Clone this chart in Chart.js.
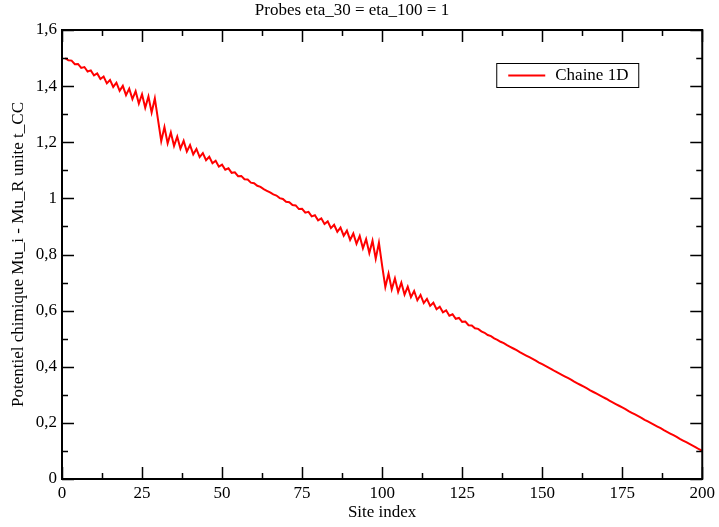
<!DOCTYPE html>
<html>
<head>
<meta charset="utf-8">
<script src="https://cdn.jsdelivr.net/npm/chart.js@4.4.1/dist/chart.umd.min.js"></script>
<style>
  html, body { margin: 0; padding: 0; background: #fff; }
  #wrap { width: 719px; height: 527px; }
</style>
</head>
<body>
<div id="wrap"><canvas id="myChart" width="719" height="527"></canvas></div>
<script>
const titre = "Probes eta_30 = eta_100 = 1";
const serieLabel = "Chaine 1D";
const xTitre = "Site index";
const yTitre = "Potentiel chimique Mu_i - Mu_R unite t_CC";

// site index 1..200
const sites = Array.from({ length: 200 }, (_, i) => i + 1);

// valeurs, site 1 -> 200
const potentiel = [
  1.500, 1.492, 1.491, 1.478, 1.479, 1.465, 1.468, 1.452, 1.456, 1.438,
  1.445, 1.425, 1.434, 1.410, 1.422, 1.397, 1.412, 1.383, 1.401, 1.368,
  1.391, 1.354, 1.382, 1.338, 1.371, 1.323, 1.363, 1.306, 1.356, 1.280,
  1.204, 1.254, 1.196, 1.235, 1.187, 1.220, 1.177, 1.205, 1.167, 1.190,
  1.157, 1.176, 1.147, 1.161, 1.136, 1.148, 1.125, 1.134, 1.113, 1.120,
  1.102, 1.107, 1.091, 1.093, 1.079, 1.080, 1.068, 1.067, 1.056, 1.054,
  1.045, 1.041, 1.033, 1.027, 1.021, 1.014, 1.010, 1.001, 0.998, 0.988,
  0.986, 0.976, 0.975, 0.962, 0.963, 0.949, 0.952, 0.936, 0.940, 0.922,
  0.929, 0.909, 0.918, 0.894, 0.906, 0.881, 0.896, 0.867, 0.885, 0.852,
  0.875, 0.838, 0.866, 0.822, 0.855, 0.805, 0.849, 0.785, 0.842, 0.760,
  0.684, 0.732, 0.676, 0.715, 0.667, 0.700, 0.657, 0.685, 0.648, 0.670,
  0.637, 0.656, 0.627, 0.642, 0.617, 0.628, 0.605, 0.614, 0.594, 0.601,
  0.582, 0.587, 0.571, 0.574, 0.560, 0.561, 0.548, 0.547, 0.537, 0.535,
  0.526, 0.521, 0.513, 0.509, 0.501, 0.496, 0.489, 0.484, 0.477, 0.471,
  0.465, 0.459, 0.452, 0.446, 0.440, 0.434, 0.428, 0.422, 0.415, 0.409,
  0.403, 0.397, 0.391, 0.384, 0.378, 0.372, 0.366, 0.360, 0.354, 0.347,
  0.341, 0.335, 0.329, 0.323, 0.316, 0.310, 0.304, 0.298, 0.292, 0.286,
  0.279, 0.273, 0.267, 0.261, 0.255, 0.249, 0.242, 0.236, 0.230, 0.224,
  0.218, 0.211, 0.205, 0.199, 0.193, 0.187, 0.181, 0.174, 0.168, 0.162,
  0.156, 0.150, 0.143, 0.137, 0.131, 0.125, 0.119, 0.113, 0.106, 0.100
];

const xMajor = [0, 25, 50, 75, 100, 125, 150, 175, 200];
const xMinor = [12.5, 37.5, 62.5, 87.5, 112.5, 137.5, 162.5, 187.5];
const yMajor = [0, 0.2, 0.4, 0.6, 0.8, 1, 1.2, 1.4, 1.6];
const yMinor = [0.1, 0.3, 0.5, 0.7, 0.9, 1.1, 1.3, 1.5];

const police = "'Liberation Serif', 'DejaVu Serif', serif";

// ticks vers l'interieur + cadre (style xmgrace)
const cadrePlugin = {
  id: "cadre",
  afterDatasetsDraw(chart) {
    const { ctx, chartArea: a, scales } = chart;
    ctx.save();
    ctx.strokeStyle = "#000";
    ctx.lineWidth = 1.5;
    const tick = (vals, len) => {
      vals.forEach(v => {
        const px = Math.round(scales.x.getPixelForValue(v)) + 0.5;
        ctx.beginPath();
        ctx.moveTo(px, a.bottom); ctx.lineTo(px, a.bottom - len);
        ctx.moveTo(px, a.top); ctx.lineTo(px, a.top + len);
        ctx.stroke();
      });
    };
    const tickY = (vals, len) => {
      vals.forEach(v => {
        const py = Math.round(scales.y.getPixelForValue(v)) + 0.5;
        ctx.beginPath();
        ctx.moveTo(a.left, py); ctx.lineTo(a.left + len, py);
        ctx.moveTo(a.right, py); ctx.lineTo(a.right - len, py);
        ctx.stroke();
      });
    };
    tick(xMajor, 12); tick(xMinor, 6);
    tickY(yMajor, 12); tickY(yMinor, 6);
    ctx.lineWidth = 2;
    ctx.strokeRect(a.left, a.top, a.right - a.left, a.bottom - a.top);

    // legende dans le cadre
    const bx = a.right - 206, by = a.top + 33, bw = 142, bh = 24;
    ctx.fillStyle = "#fff";
    ctx.fillRect(bx, by, bw, bh);
    ctx.lineWidth = 1;
    ctx.strokeRect(bx + 0.5, by + 0.5, bw, bh);
    ctx.strokeStyle = "red";
    ctx.lineWidth = 2;
    ctx.beginPath();
    ctx.moveTo(bx + 12, by + 12.5); ctx.lineTo(bx + 49, by + 12.5);
    ctx.stroke();
    ctx.fillStyle = "#000";
    ctx.font = "17px " + police;
    ctx.textBaseline = "middle";
    ctx.fillText(chart.data.datasets[0].label, bx + 59, by + 13);
    ctx.restore();
  }
};

const ctx = document.getElementById("myChart");

new Chart(ctx, {
  type: "line",
  data: {
    datasets: [{
      label: serieLabel,
      data: sites.map((s, i) => ({ x: s, y: potentiel[i] })),
      borderColor: "red",
      borderWidth: 2,
      pointRadius: 0,
      tension: 0,
      fill: false
    }]
  },
  options: {
    responsive: false,
    animation: false,
    layout: { padding: { top: 0, right: 15, left: 0, bottom: 0 } },
    plugins: {
      legend: { display: false },
      tooltip: { enabled: false },
      title: {
        display: true,
        text: titre,
        color: "#000",
        font: { family: police, size: 17, weight: "normal" },
        padding: { top: 0, bottom: 9.6 }
      }
    },
    scales: {
      x: {
        type: "linear",
        min: 0,
        max: 200,
        afterFit: s => { s.height = 48; },
        afterBuildTicks: s => { s.ticks = xMajor.map(v => ({ value: v })); },
        grid: { display: false, drawTicks: false },
        border: { display: false },
        ticks: {
          color: "#000",
          padding: 4,
          maxRotation: 0,
          font: { family: police, size: 17 }
        },
        title: {
          display: true,
          text: xTitre,
          color: "#000",
          padding: { top: 0, bottom: 4 },
          font: { family: police, size: 17 }
        }
      },
      y: {
        min: 0,
        max: 1.6,
        afterFit: s => { s.width = 62; },
        afterBuildTicks: s => { s.ticks = yMajor.map(v => ({ value: v })); },
        grid: { display: false, drawTicks: false },
        border: { display: false },
        ticks: {
          color: "#000",
          padding: 5,
          font: { family: police, size: 17 },
          callback: v => String(Math.round(v * 10) / 10).replace(".", ",")
        },
        title: {
          display: true,
          text: yTitre,
          color: "#000",
          padding: { top: 8, bottom: 0 },
          font: { family: police, size: 17 }
        }
      }
    }
  },
  plugins: [cadrePlugin]
});
</script>
</body>
</html>
